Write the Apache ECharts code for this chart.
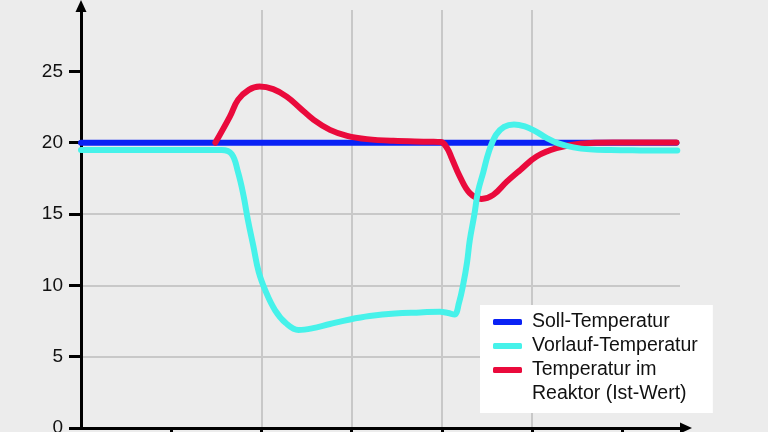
<!DOCTYPE html>
<html>
<head>
<meta charset="utf-8">
<title>Temperaturverlauf</title>
<script src="https://cdn.jsdelivr.net/npm/echarts/dist/echarts.min.js"></script>
<style>
    html, body { margin: 0; padding: 0; background: #ececec; }
    #main { width: 768px; height: 432px; }
</style>
</head>
<body>
<div id="main"></div>
<script type="text/javascript">
    // Achsen
    var yTicks = [0, 5, 10, 15, 20, 25];
    var xTicks = [1, 2, 3, 4, 5, 6];

    // Soll-Temperatur
    var sollX = [0, 6.6];
    var sollY = [20, 20];

    // Vorlauf-Temperatur
    var vorlaufX = [0, 0.77, 1.32, 1.56, 1.67, 1.74, 1.80, 1.85, 1.91, 1.97, 2.05, 2.15, 2.27, 2.41, 2.56, 2.76, 2.98, 3.20,
        3.48, 3.76, 3.98, 4.07, 4.14, 4.19, 4.24, 4.28, 4.31, 4.36, 4.40, 4.46, 4.52, 4.60, 4.69, 4.80, 4.92, 5.03, 5.16,
        5.29, 5.46, 5.64, 5.87, 6.20, 6.61];
    var vorlaufY = [19.49, 19.49, 19.49, 19.49, 19.21, 17.95, 16.34, 14.59, 12.76, 10.94, 9.54, 8.27, 7.36, 6.87, 6.98, 7.29,
        7.61, 7.85, 8.03, 8.10, 8.15, 8.06, 7.96, 8.77, 10.17, 11.64, 13.18, 14.94, 16.55, 17.95, 19.35, 20.55, 21.11, 21.28,
        21.14, 20.83, 20.34, 19.95, 19.67, 19.53, 19.48, 19.46, 19.45];

    // Temperatur im Reaktor (Ist-Wert)
    var reaktorX = [1.49, 1.65, 1.74, 1.86, 1.98, 2.13, 2.28, 2.43, 2.58, 2.76, 2.95, 3.17, 3.46, 3.87, 3.99, 4.06,
        4.11, 4.20, 4.31, 4.44, 4.57, 4.72, 4.87, 5.05, 5.27, 5.53, 5.90, 6.60];
    var reaktorY = [20.01, 21.83, 23.00, 23.70, 23.93, 23.75, 23.23, 22.42, 21.60, 20.90, 20.48, 20.25, 20.13, 20.07,
        20.04, 19.60, 18.91, 17.62, 16.46, 16.06, 16.34, 17.27, 18.09, 19.03, 19.61, 19.92, 20.01, 20.01];

    var names = ['Soll-Temperatur', 'Vorlauf-Temperatur', 'Temperatur im Reaktor (Ist-Wert)'];

    function zip(xs, ys) {
        var out = [];
        for (var i = 0; i < xs.length; i++) {
            out.push([xs[i], ys[i]]);
        }
        return out;
    }

    var font = 'Liberation Sans';
    var myChart = echarts.init(document.getElementById('main'));

    var option = {
        animation: false,
        backgroundColor: '#ececec',
        grid: { left: 81, right: 88, top: 10, bottom: 4, outerBoundsMode: 'none', containLabel: false },
        legend: {
            data: names,
            orient: 'vertical',
            left: 480,
            top: 305,
            icon: 'roundRect',
            itemWidth: 29,
            itemHeight: 6,
            itemGap: 0,
            backgroundColor: '#ffffff',
            padding: [5, 15, 31, 13],
            formatter: function (name) {
                return name === names[2] ? 'Temperatur im' : name;
            },
            textStyle: {
                fontFamily: font,
                fontSize: 19.5,
                color: '#111111',
                lineHeight: 24,
                padding: [0, 0, 0, 5]
            }
        },
        graphic: [{
            type: 'text',
            x: 532,
            y: 394,
            z: 10,
            style: {
                text: 'Reaktor (Ist-Wert)',
                font: '19.5px "Liberation Sans"',
                fill: '#111111',
                verticalAlign: 'middle'
            }
        }],
        xAxis: {
            type: 'value',
            min: 0,
            max: 6.64,
            interval: 1,
            axisLine: {
                lineStyle: { color: '#000000', width: 3 },
                symbol: ['none', 'triangle'],
                symbolSize: [11, 12],
                symbolOffset: [0, 6]
            },
            axisTick: { show: true, customValues: xTicks, length: 8, lineStyle: { color: '#000000', width: 3 } },
            axisLabel: { show: false },
            splitLine: { show: true, showMinLine: false, showMaxLine: false, lineStyle: { color: '#c8c8c8', width: 2 } }
        },
        yAxis: {
            type: 'value',
            min: 0,
            max: 29.3,
            interval: 5,
            axisLine: {
                show: true,
                lineStyle: { color: '#000000', width: 3 },
                symbol: ['none', 'triangle'],
                symbolSize: [11, 12],
                symbolOffset: [0, 4]
            },
            axisTick: { show: true, customValues: yTicks, length: 12, lineStyle: { color: '#000000', width: 3 } },
            axisLabel: {
                customValues: yTicks,
                margin: 18,
                fontFamily: font,
                fontSize: 19,
                color: '#111111'
            },
            splitLine: { show: true, showMinLine: false, showMaxLine: false, lineStyle: { color: '#c8c8c8', width: 2 } }
        },
        series: [
            {
                name: names[0],
                type: 'line',
                data: zip(sollX, sollY),
                symbol: 'none',
                color: '#0a22f5',
                lineStyle: { width: 6, cap: 'round' },
                z: 2
            },
            {
                name: names[2],
                type: 'line',
                data: zip(reaktorX, reaktorY),
                symbol: 'none',
                smooth: 0.4,
                color: '#ea0a3c',
                lineStyle: { width: 6, cap: 'round', join: 'round' },
                z: 3
            },
            {
                name: names[1],
                type: 'line',
                data: zip(vorlaufX, vorlaufY),
                symbol: 'none',
                smooth: 0.4,
                color: '#46f2ea',
                lineStyle: { width: 6, cap: 'round', join: 'round' },
                z: 4
            }
        ]
    };

    myChart.setOption(option);
</script>
</body>
</html>
